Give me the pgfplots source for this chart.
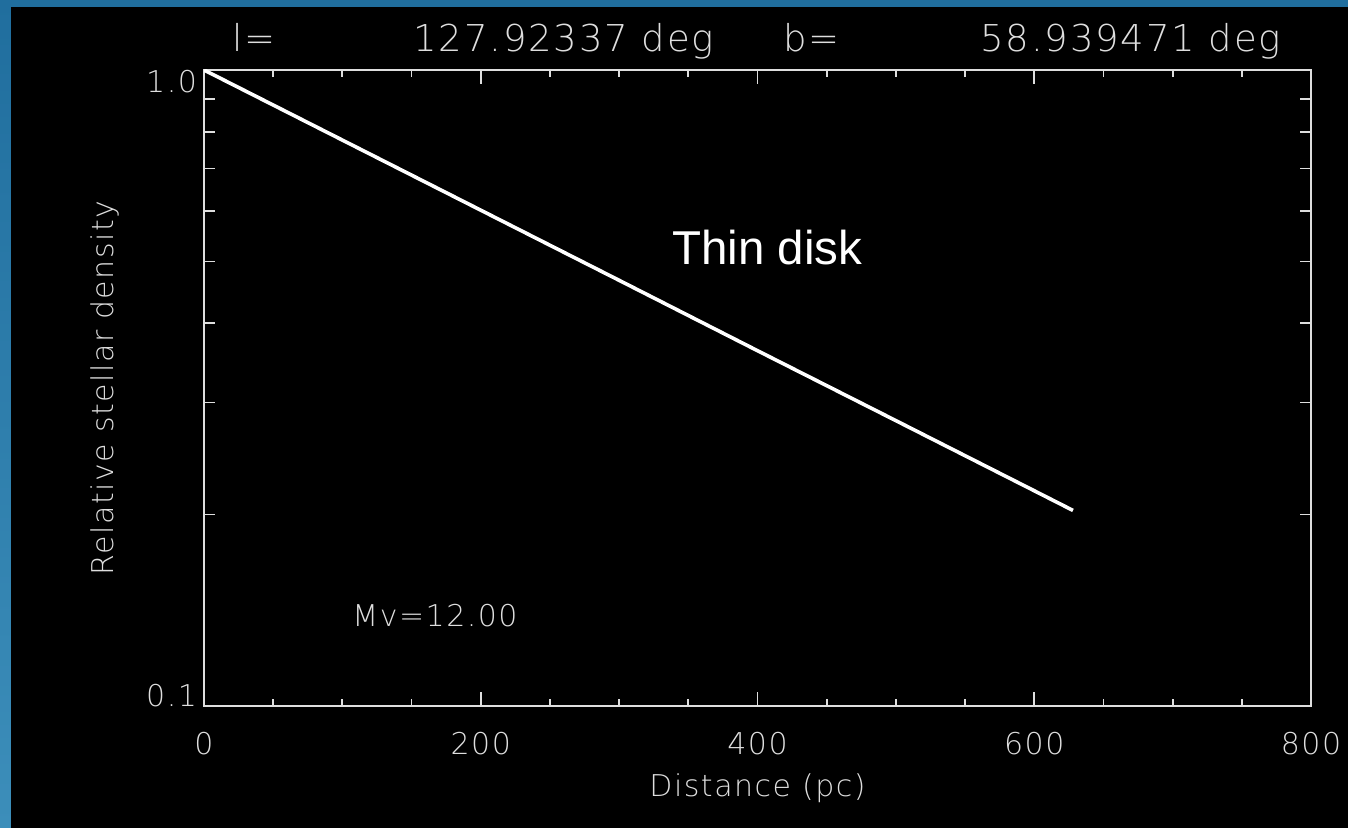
\documentclass[border=0pt]{standalone}
\usepackage{pgfplots}
\pgfplotsset{compat=1.18}
\usepackage{fontspec}
\setmainfont{DejaVu Sans}
\newfontfamily\idl[LetterSpace=5]{DejaVuSans-ExtraLight.ttf}
\newfontfamily\arial{Liberation Sans}

\definecolor{frameblueTop}{RGB}{32,110,158}
\definecolor{frameblueBot}{RGB}{60,142,186}
\definecolor{idlgray}{RGB}{222,222,222}

% Thin-disk density profile along the line of sight
\pgfplotstableread{
d      rho
0      1.000
100    0.776
200    0.602
300    0.467
400    0.362
500    0.281
600    0.218
628    0.203
}\thindisk

\begin{document}
\begin{tikzpicture}[x=0.5pt,y=0.5pt]
  % page frame: blue strip at top and left, black plotting area
  \path[use as bounding box] (0,0) rectangle (1348,828);
  \shade[top color=frameblueTop, bottom color=frameblueBot] (0,0) rectangle (1348,828);
  \fill[frameblueTop] (0,821) rectangle (1348,828);
  \fill[black] (11,0) rectangle (1348,821);

  \begin{axis}[
    at={(102pt,61pt)}, anchor=south west,
    scale only axis, width=553.5pt, height=318pt,
    xmin=0, xmax=800, ymode=log, ymin=0.1, ymax=1,
    axis line style={idlgray, line width=0.9pt},
    tick style={idlgray, line width=0.9pt},
    tick align=inside,
    major tick length=7pt, minor tick length=3.4pt,
    xtick={0,200,400,600,800}, minor x tick num=3,
    ytick={0.1,1}, yticklabels={0.1,\raisebox{-11.5pt}{1.0}},
    yminorticks=false,
    extra y ticks={0.2,0.3,0.4,0.5,0.6,0.7,0.8,0.9},
    extra y tick labels={},
    extra y tick style={major tick length=5.5pt},
    /pgf/number format/assume math mode=true,
    ticklabel style={font=\idl\fontsize{15pt}{18pt}\selectfont, text=idlgray},
    xticklabel style={anchor=base, yshift=-24pt},
    yticklabel style={anchor=base east},
    xlabel={Distance (pc)},
    ylabel={Relative stellar density},
    label style={font=\idl\fontsize{15pt}{18pt}\selectfont, text=idlgray},
    xlabel style={at={(rel axis cs:0.5,0)}, anchor=base, yshift=-45pt},
    ylabel style={at={(rel axis cs:0,0.5)}, anchor=base, yshift=45.5pt},
  ]
    \addplot[white, line width=1.8pt, no marks] table[x=d, y=rho] {\thindisk};
  \end{axis}

  % header line with the galactic coordinates
  \begin{scope}[every node/.style={anchor=base west, inner sep=0pt, text=idlgray,
      font=\idl\fontsize{18.5pt}{22pt}\selectfont}]
    \node at (232,776) {l=};
    \node at (413,776) {127.92337 deg};
    \node at (783,776) {b=};
    \node at (980,776) {58.939471 deg};
  \end{scope}

  \node[anchor=base west, inner sep=0pt, text=idlgray,
        font=\idl\fontsize{15pt}{18pt}\selectfont] at (352,201) {Mv=12.00};
  \node[anchor=base west, inner sep=0pt, text=white,
        font=\arial\fontsize{23.75pt}{28pt}\selectfont] at (672,563) {Thin disk};
\end{tikzpicture}
\end{document}
